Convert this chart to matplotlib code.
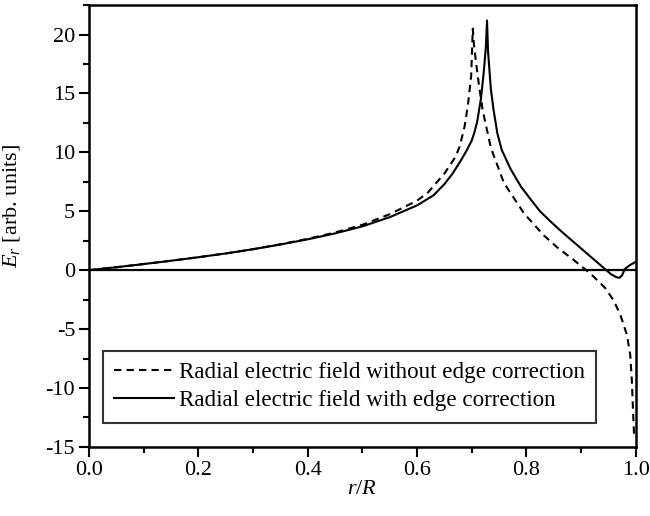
import matplotlib
matplotlib.use("Agg")
import matplotlib.pyplot as plt
from matplotlib.ticker import MultipleLocator

plt.rcParams['font.family'] = ['Liberation Serif', 'DejaVu Serif']
plt.rcParams['mathtext.fontset'] = 'custom'
plt.rcParams['mathtext.rm'] = 'Liberation Serif'
plt.rcParams['mathtext.it'] = 'Liberation Serif:italic'
plt.rcParams['axes.unicode_minus'] = False

# radial field with edge correction (solid)
r_with = [0.00, 0.05, 0.10, 0.15, 0.20, 0.25, 0.30, 0.35, 0.40, 0.45, 0.50, 0.55,
          0.60, 0.63, 0.65, 0.665, 0.68, 0.69, 0.70, 0.705, 0.71, 0.717, 0.722, 0.726, 0.728,
          0.730, 0.735, 0.740, 0.747, 0.755, 0.771, 0.790, 0.808, 0.825, 0.845, 0.865,
          0.885, 0.910, 0.930, 0.945, 0.955, 0.965, 0.970, 0.975, 0.980, 0.990, 1.000]
E_with = [0.0, 0.25, 0.52, 0.8, 1.1, 1.42, 1.78, 2.18, 2.62, 3.12, 3.72, 4.5,
          5.5, 6.35, 7.3, 8.2, 9.3, 10.1, 11.0, 11.7, 12.6, 14.6, 16.8, 19.0, 21.2,
          18.5, 15.4, 13.6, 11.6, 10.2, 8.6, 7.1, 6.0, 5.0, 4.1, 3.25,
          2.45, 1.45, 0.65, 0.05, -0.35, -0.6, -0.65, -0.45, 0.1, 0.45, 0.7]

# radial field without edge correction (dashed)
r_without = [0.00, 0.05, 0.10, 0.15, 0.20, 0.25, 0.30, 0.35, 0.40, 0.45, 0.50, 0.55,
             0.60, 0.62, 0.65, 0.67, 0.678, 0.687, 0.693, 0.699, 0.702, 0.704, 0.708,
             0.713, 0.720, 0.735, 0.759, 0.796, 0.832, 0.856, 0.887, 0.917, 0.944,
             0.960, 0.972, 0.984, 0.990, 0.993, 0.995, 0.997]
E_without = [0.0, 0.25, 0.52, 0.8, 1.1, 1.42, 1.78, 2.2, 2.66, 3.2, 3.85, 4.75,
             5.9, 6.6, 8.2, 9.6, 10.5, 12.2, 14.0, 16.5, 20.5, 19.2, 17.6,
             15.8, 13.6, 10.4, 7.4, 4.8, 2.95, 1.95, 0.85, -0.28, -1.5,
             -2.6, -3.8, -5.5, -7.2, -9.4, -11.8, -14.0]

fig = plt.figure(figsize=(6.5, 5.16), dpi=100)
ax = fig.add_axes([0.137, 0.134, 0.841, 0.856])

ax.axhline(0, color='black', lw=1.6, zorder=1)
ax.plot(r_without, E_without, color='black', lw=1.5, dashes=(3.5, 2.5),
        label='Radial electric field without edge correction')
ax.plot(r_with, E_with, color='black', lw=1.5,
        label='Radial electric field with edge correction')

ax.set_xlim(0, 1.0)
ax.set_ylim(-15, 22.5)
ax.xaxis.set_major_locator(MultipleLocator(0.2))
ax.xaxis.set_minor_locator(MultipleLocator(0.1))
ax.yaxis.set_major_locator(MultipleLocator(5))
ax.yaxis.set_minor_locator(MultipleLocator(2.5))
ax.tick_params(which='both', direction='out', width=1.5, labelsize=16,
               top=False, right=False)
ax.tick_params(which='major', length=7, pad=3)
ax.tick_params(which='minor', length=4)
ax.set_xticklabels([f"{v:.1f}" for v in ax.get_xticks()])
for s in ax.spines.values():
    s.set_linewidth(1.8)

ax.set_xlabel(r'$r/R$', fontsize=16, labelpad=0)
ax.set_ylabel(r'$E_r$ [arb. units]', fontsize=16)
ax.yaxis.set_label_coords(-0.122, 0.545)

leg = ax.legend(loc='lower left', bbox_to_anchor=(0.025, 0.054), borderaxespad=0,
                fontsize=16.6, frameon=True, fancybox=False, handlelength=2.6,
                handletextpad=0.2, borderpad=0.5, labelspacing=0.3)
leg.get_frame().set_edgecolor('black')
leg.get_frame().set_linewidth(1.5)

fig.savefig('out.png', dpi=100)
